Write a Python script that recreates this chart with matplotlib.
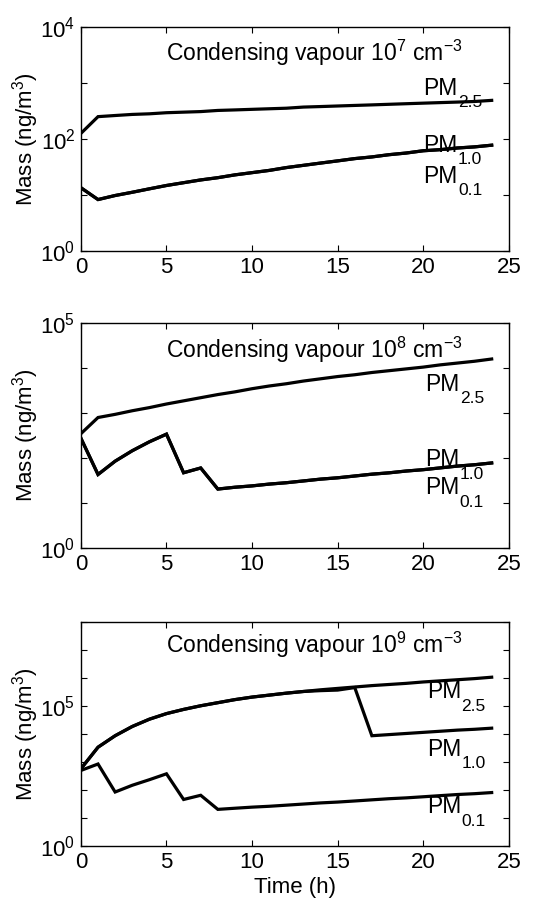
import numpy as np
import matplotlib
matplotlib.use("Agg")
import matplotlib.pyplot as plt

plt.rcParams['font.family'] = ['Liberation Sans', 'DejaVu Sans']
plt.rcParams['mathtext.default'] = 'regular'
plt.rcParams['font.size'] = 16

hours = list(range(25))

# panel 1: condensing vapour 1e7 cm-3
p1_pm25 = [126, 251, 263, 275, 282, 295, 302, 309, 324, 331, 339, 347, 355,
           372, 380, 389, 398, 407, 417, 427, 437, 447, 457, 468, 490]
p1_pm10 = [13.5, 8.3, 9.8, 11.2, 12.9, 14.8, 16.6, 18.6, 20.4, 22.9, 25.1, 27.5,
           30.9, 33.9, 37.2, 40.7, 44.7, 47.9, 52.5, 56.2, 61.7, 64.6, 69.2, 72.4, 77.6]
p1_pm01 = list(p1_pm10)

# panel 2: condensing vapour 1e8 cm-3
p2_pm25 = [347, 794, 933, 1122, 1318, 1585, 1862, 2188, 2570, 2951, 3467, 3981,
           4467, 5129, 5754, 6457, 7079, 7943, 8710, 9550, 10471, 11749, 12882,
           14125, 15849]
p2_pm10 = [275, 43, 85, 145, 229, 339, 47, 60, 20.4, 22.4, 24.0, 26.3, 28.2,
           30.9, 33.9, 36.3, 39.8, 43.7, 46.8, 51.3, 55.0, 60.3, 66.1, 70.8, 77.6]
p2_pm01 = list(p2_pm10)

# panel 3: condensing vapour 1e9 cm-3
p3_pm25 = [575, 3388, 8710, 18621, 33884, 53703, 75858, 102329, 131826, 169824,
           208930, 245471, 288403, 331131, 380189, 426580, 478630, 537032,
           588844, 645654, 724436, 794328, 870964, 954993, 1071519]
p3_pm10 = [575, 3388, 8710, 18621, 33884, 53703, 75858, 102329, 131826, 169824,
           208930, 245471, 288403, 331131, 354813, 371535, 457088, 8710,
           9550, 10471, 11482, 12589, 13804, 14791, 16218]
p3_pm01 = [501, 851, 85, 148, 234, 380, 46, 65, 20.4, 22.4, 24.5, 26.3, 28.8,
           31.6, 34.7, 37.2, 40.7, 44.7, 49.0, 52.5, 57.5, 63.1, 69.2, 74.1, 81.3]

subs = ['2.5', '1.0', '0.1']

panels = [
    dict(pm25=p1_pm25, pm10=p1_pm10, pm01=p1_pm01, exp='7', ymax=4, labels=[0, 2, 4],
         title_y=2455, lab_x=20.0, lab_y=[620, 59, 16.6]),
    dict(pm25=p2_pm25, pm10=p2_pm10, pm01=p2_pm01, exp='8', ymax=5, labels=[0, 5],
         title_y=16600, lab_x=20.1, lab_y=[3160, 65, 15.8]),
    dict(pm25=p3_pm25, pm10=p3_pm10, pm01=p3_pm01, exp='9', ymax=8, labels=[0, 5],
         title_y=7.9e6, lab_x=20.2, lab_y=[190000, 1700, 15.1]),
]

rects = [[0.149, 0.7214, 0.788, 0.2486],
         [0.149, 0.3918, 0.788, 0.2497],
         [0.149, 0.0610, 0.788, 0.2486]]

fig = plt.figure(figsize=(5.43, 9.01), dpi=100)

for i, p in enumerate(panels):
    ax = fig.add_axes(rects[i])
    ax.set_yscale('log')
    for key in ['pm01', 'pm10', 'pm25']:
        ax.plot(hours, p[key], color='black', linewidth=2.3, solid_joinstyle='miter')
    ax.set_xlim(0, 25)
    ax.set_ylim(1, 10 ** p['ymax'])
    decades = list(range(p['ymax'] + 1))
    ax.set_yticks([10.0 ** d for d in decades])
    ax.set_yticklabels(['$10^{%d}$' % d if d in p['labels'] else '' for d in decades])
    ax.yaxis.set_minor_locator(matplotlib.ticker.NullLocator())
    ax.set_xticks([0, 5, 10, 15, 20, 25])
    ax.tick_params(direction='in', top=True, right=True, length=4, width=0.8, pad=4,
                   labelsize=16)
    for s in ax.spines.values():
        s.set_linewidth(1.0)
    ax.set_ylabel('Mass (ng/m$^3$)', fontsize=16)
    ax.yaxis.set_label_coords(-0.094, 0.5)

    ax.text(4.96, p['title_y'],
            'Condensing vapour 10$^{%s}$ cm$^{-3}$' % p['exp'],
            fontsize=16.5, ha='left', va='baseline')
    # MATLAB-style labels: subscript dropped well below the baseline
    for sub, y in zip(subs, p['lab_y']):
        ax.text(p['lab_x'], y, 'PM', fontsize=16.5, ha='left', va='baseline')
        ax.annotate(sub, xy=(p['lab_x'], y), xytext=(25, -9),
                    textcoords='offset points', fontsize=12.5,
                    ha='left', va='baseline')

    if i == 2:
        ax.set_xlabel('Time (h)', fontsize=16, labelpad=3)

fig.savefig('out.png', dpi=100)
